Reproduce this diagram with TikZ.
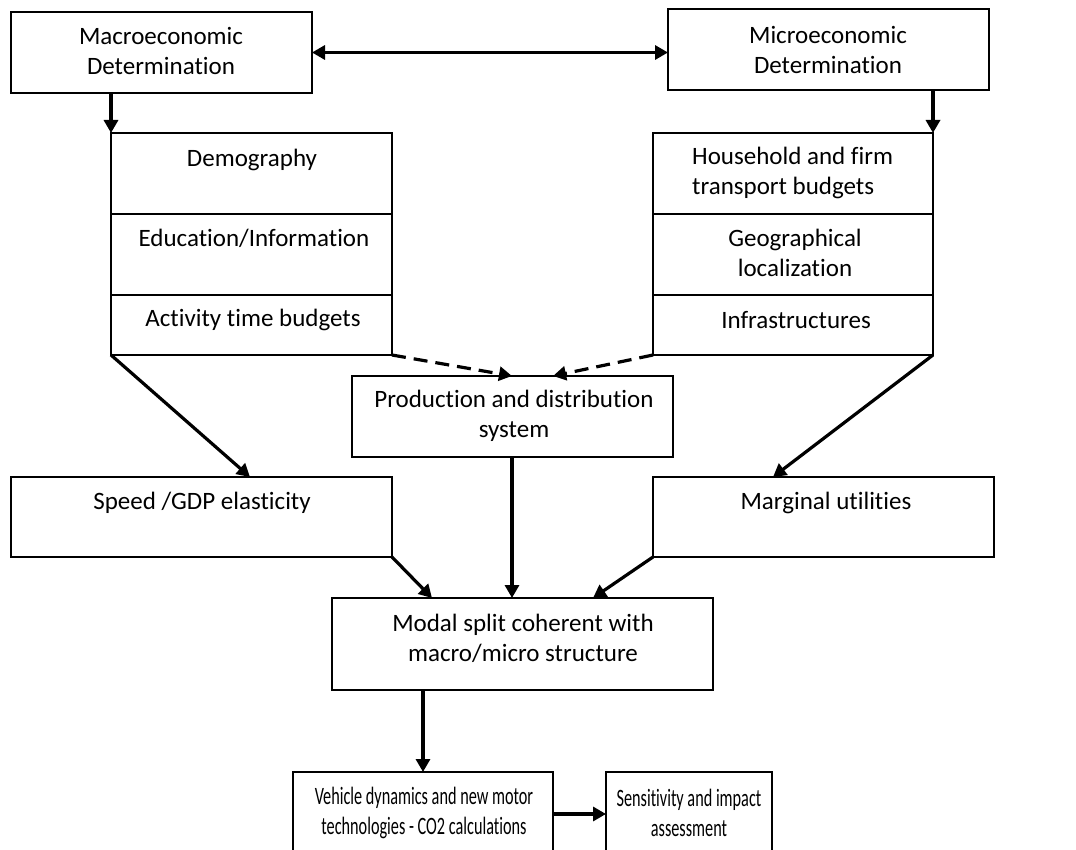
\documentclass[tikz,border=0pt]{standalone}
\usepackage{fontspec}
\setmainfont[Ligatures=NoCommon]{Carlito}
\usetikzlibrary{arrows.meta,calc}
\begin{document}
\begin{tikzpicture}[x=1pt,y=-1pt,
  box/.style={draw,line width=1.3pt,inner sep=0pt,outer sep=0pt,anchor=north west},
  txt/.style={inner sep=0pt,align=center,font=\fontsize{25}{30}\selectfont},
  narrow/.style={txt,xscale=0.65,transform shape},
  conn/.style={line width=3.2pt,-{Triangle[length=13pt,width=14pt]}},
  dconn/.style={conn,dash pattern=on 14pt off 8pt}]
\useasboundingbox (0,0) rectangle (1076,850);
\clip (0,0) rectangle (1076,850);
% boxes
\node[box,minimum width=301pt,minimum height=81pt] (macro) at (11,12) {};
\node[box,minimum width=321pt,minimum height=81pt] (micro) at (668,9) {};
\node[box,minimum width=281pt,minimum height=222pt] (lstack) at (111,133) {};
\node[box,minimum width=280pt,minimum height=222pt] (rstack) at (653,133) {};
\node[box,minimum width=321pt,minimum height=81pt] (prod) at (352,376) {};
\node[box,minimum width=381pt,minimum height=80pt] (speed) at (11,477) {};
\node[box,minimum width=341pt,minimum height=80pt] (marg) at (653,477) {};
\node[box,minimum width=381pt,minimum height=92pt] (modal) at (332,598) {};
\node[box,minimum width=260pt,minimum height=100pt] (veh) at (293,772) {};
\node[box,minimum width=166pt,minimum height=100pt] (sens) at (606,772) {};
% dividers
\draw[line width=1.3pt] (lstack.west |- 0,214) coordinate (ld1) -- (lstack.east |- ld1);
\draw[line width=1.3pt] (lstack.west |- 0,295) coordinate (ld2) -- (lstack.east |- ld2);
\draw[line width=1.3pt] (rstack.west |- 0,214) coordinate (rd1) -- (rstack.east |- rd1);
\draw[line width=1.3pt] (rstack.west |- 0,295) coordinate (rd2) -- (rstack.east |- rd2);
% texts
\node[txt] (tmacro) at (161,51) {Macroeconomic\\Determination};
\node[txt] (tmicro) at (828,50) {Microeconomic\\Determination};
\node[txt] (tdemo) at (252,160) {Demography};
\node[txt] (tedu) at (254,238) {Education/Information};
\node[txt] (tact) at (253,320) {Activity time budgets};
\node[txt,align=left,anchor=west] (thouse) at (692,173) {Household and firm\\transport budgets};
\node[txt] (tgeo) at (795,253) {Geographical\\localization};
\node[txt] (tinfra) at (796,320) {Infrastructures};
\node[txt] (tprod) at (514,416) {Production and distribution\\system};
\node[txt] (tspeed) at (202,503) {Speed /GDP elasticity};
\node[txt] (tmarg) at (826,503) {Marginal utilities};
\node[txt] (tmodal) at (523,638) {Modal split coherent with\\macro/micro structure};
\node[narrow] (tveh) at (424,813) {Vehicle dynamics and new motor\\technologies - CO2 calculations};
\node[narrow] (tsens) at (689,813) {Sensitivity and impact\\assessment};
% connectors
\draw[conn,{Triangle[length=13pt,width=14pt]}-{Triangle[length=13pt,width=14pt]}] (macro.east) -- (micro.west |- macro.east);
\draw[conn] ([xshift=100pt]macro.south west) -- (lstack.north west);
\draw[conn] ([xshift=265pt]micro.south west) -- (rstack.north east);
\draw[dconn] (lstack.south east) -- ([xshift=160pt]prod.north west);
\draw[dconn] (rstack.south west) -- ([xshift=201pt]prod.north west);
\draw[conn] (lstack.south west) -- ([xshift=239pt]speed.north west);
\draw[conn] (rstack.south east) -- ([xshift=120pt]marg.north west);
\draw[conn] (speed.south east) -- ([xshift=100pt]modal.north west);
\draw[conn] ([xshift=160pt]prod.south west) -- ([xshift=180pt]modal.north west);
\draw[conn] (marg.south west) -- ([xshift=261pt]modal.north west);
\draw[conn] ([xshift=91pt]modal.south west) -- ([xshift=130pt]veh.north west);
\draw[conn] ([yshift=-42pt]veh.north east) -- ([yshift=-42pt]sens.north west);
\end{tikzpicture}
\end{document}
